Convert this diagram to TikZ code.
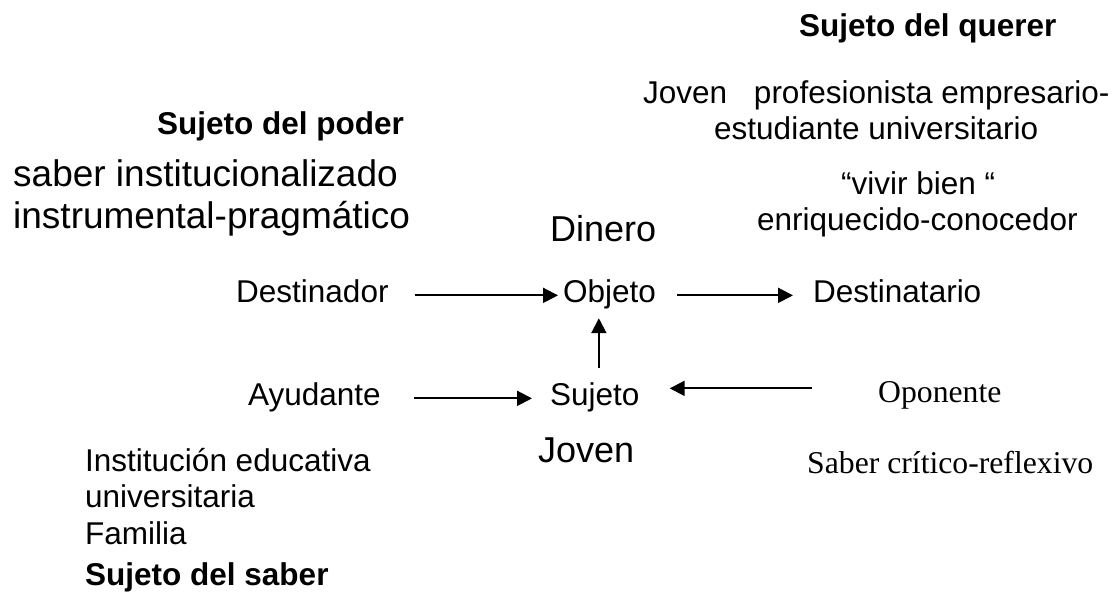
\documentclass[tikz,border=0pt]{standalone}
\usepackage{fontspec}
\setmainfont{Liberation Sans}
\newfontfamily\tnr{Liberation Serif}
\usetikzlibrary{arrows.meta}
\begin{document}
\begin{tikzpicture}[x=1pt,y=-1pt,
  txt/.style={inner sep=0pt,anchor=base west,font=\fontsize{31.5}{36}\selectfont},
  txtb/.style={txt,font=\fontsize{31.5}{36}\selectfont\bfseries},
  txtbig/.style={txt,font=\fontsize{37}{42}\selectfont},
  txtmed/.style={txt,font=\fontsize{36}{41}\selectfont},
  txtser/.style={txt,font=\fontsize{31.7}{36}\selectfont\tnr},
  arr/.style={line width=2pt,-{Triangle[length=15pt,width=15pt]}}]
\useasboundingbox (0,0) rectangle (1116,594);
% top right
\node[txtb] (querer) at (799,37) {Sujeto del querer};
\node[txt] (jprof) at (643,103) {Joven\hspace{18pt} profesionista empresario-};
\node[txt] (estud) at (714,139) {estudiante universitario};
\node[txt] (vivir) at (841,194) {“vivir bien “};
\node[txt] (enriq) at (757,230) {enriquecido-conocedor};
% top left
\node[txtb] (poder) at (157,134) {Sujeto del poder};
\node[txtbig] (sab1) at (13,186) {saber institucionalizado};
\node[txtbig] (sab2) at (13,228) {instrumental-pragmático};
% center
\node[txtmed] (dinero) at (550,241) {Dinero};
\node[txt] (destinador) at (236,302) {Destinador};
\node[txt] (objeto) at (563,302) {Objeto};
\node[txt] (destinatario) at (813,302) {Destinatario};
\node[txt] (ayudante) at (248,405) {Ayudante};
\node[txt] (sujeto) at (550,405) {Sujeto};
\node[txtser] (oponente) at (878,402) {Oponente};
\node[txtmed] (joven) at (538,462) {Joven};
\node[txtser] (critico) at (807,473) {Saber crítico-reflexivo};
% bottom left
\node[txt] (inst) at (85,471) {Institución educativa};
\node[txt] (univ) at (85,507) {universitaria};
\node[txt] (familia) at (85,544) {Familia};
\node[txtb] (saber) at (85,585) {Sujeto del saber};
% arrow start points
\coordinate (dS) at ([shift={(26pt,4pt)}]destinador.mid east);
\coordinate (oS) at ([shift={(21pt,4pt)}]objeto.mid east);
\coordinate (sS) at ([xshift=4pt,yshift=14pt]sujeto.north);
\coordinate (aS) at ([shift={(33pt,4pt)}]ayudante.mid east);
\coordinate (pS) at ([shift={(-66pt,11pt)}]oponente.mid west);
% arrows
\draw[arr] (dS) -- ([xshift=-5pt]objeto.west |- dS);
\draw[arr] (oS) -- ([xshift=-20pt]destinatario.west |- oS);
\draw[arr] (sS) -- ([yshift=-9.5pt]sS |- objeto.south);
\draw[arr] (aS) -- ([xshift=-18pt]sujeto.west |- aS);
\draw[arr] (pS) -- ([xshift=30pt]sujeto.east |- pS);
\end{tikzpicture}
\end{document}
